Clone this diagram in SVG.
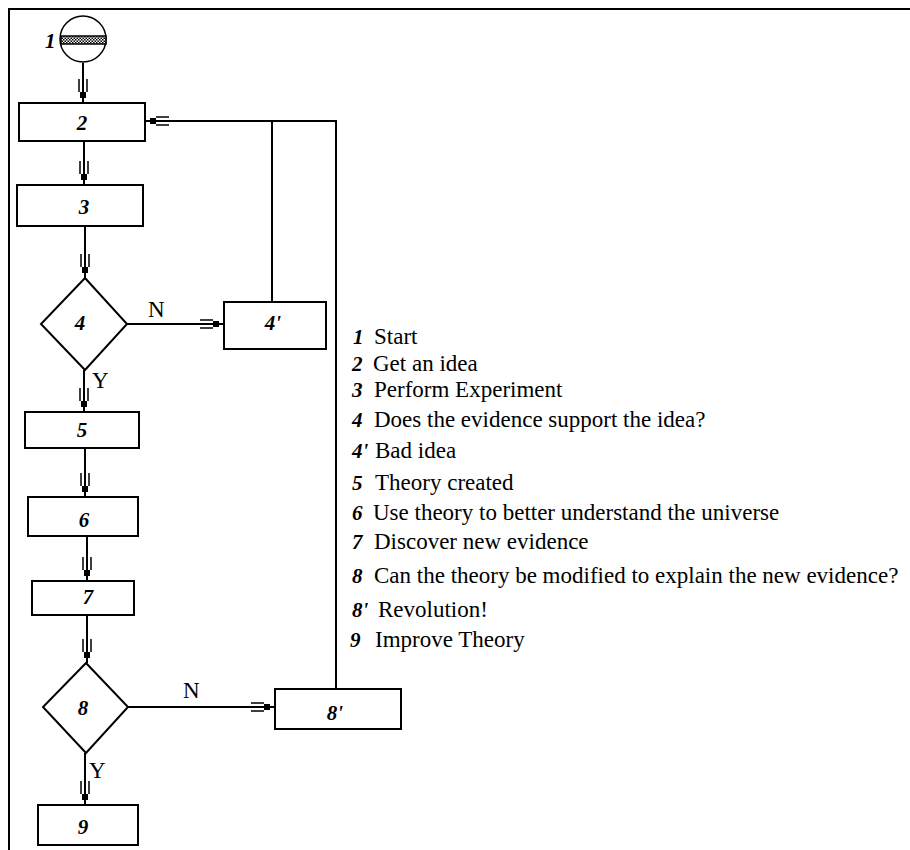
<svg xmlns="http://www.w3.org/2000/svg" width="910" height="850" viewBox="0 0 910 850">
<style>
.box{fill:#fff;stroke:#000;stroke-width:2}
.ln{fill:none;stroke:#000;stroke-width:2}
.num{font-family:"Liberation Serif","Times New Roman",serif;font-weight:bold;font-style:italic;font-size:21px;fill:#000}
.lbl{font-family:"Liberation Serif","Times New Roman",serif;font-size:23px;fill:#000}
</style>
<defs>
<pattern id="hatch" width="3" height="3" patternUnits="userSpaceOnUse">
<rect width="3" height="3" fill="#fff"/>
<rect width="1.5" height="1.5" fill="#000"/>
<rect x="1.5" y="1.5" width="1.5" height="1.5" fill="#000"/>
</pattern>
<marker id="arr" markerUnits="userSpaceOnUse" viewBox="-25 -6 26 12" refX="0" refY="0" markerWidth="26" markerHeight="12" orient="auto">
<rect x="-11" y="-3" width="6" height="6" fill="#000"/>
<path d="M-24,-4 H-11 M-24,4 H-11" stroke="#000" stroke-width="1.5" fill="none"/>
</marker>
</defs>
<rect x="0" y="0" width="910" height="850" fill="#fff"/>
<path d="M9,850 V9 H910" class="ln"/>

<g id="connectors">
<path class="ln" d="M83,63 V103" marker-end="url(#arr)"/>
<path class="ln" d="M84,141 V185" marker-end="url(#arr)"/>
<path class="ln" d="M85,226 V278" marker-end="url(#arr)"/>
<path class="ln" d="M127,324 H224" marker-end="url(#arr)"/>
<path class="ln" d="M84,370 V412" marker-end="url(#arr)"/>
<path class="ln" d="M85,448 V497" marker-end="url(#arr)"/>
<path class="ln" d="M87,536 V581" marker-end="url(#arr)"/>
<path class="ln" d="M87,615 V663" marker-end="url(#arr)"/>
<path class="ln" d="M128,707 H275" marker-end="url(#arr)"/>
<path class="ln" d="M85,753 V805" marker-end="url(#arr)"/>
<path class="ln" d="M336,689 V121 H145" marker-end="url(#arr)"/>
<path class="ln" d="M272,302 V121"/>
<text class="lbl" x="148" y="317">N</text>
<text class="lbl" x="92" y="388">Y</text>
<text class="lbl" x="183" y="698">N</text>
<text class="lbl" x="89" y="778">Y</text>
</g>

<g id="n1">
<circle cx="83" cy="39" r="23" fill="#fff" stroke="#000" stroke-width="1.5"/>
<rect x="61" y="36" width="45" height="8" fill="url(#hatch)" stroke="#000" stroke-width="1.5"/>
<text class="num" x="45" y="48">1</text>
</g>
<g id="n2"><rect class="box" x="19" y="103" width="126" height="38"/><text class="num" x="82" y="130" text-anchor="middle">2</text></g>
<g id="n3"><rect class="box" x="17" y="185" width="126" height="41"/><text class="num" x="84" y="214" text-anchor="middle">3</text></g>
<g id="n4"><path class="box" d="M85,278 L127,324 L85,370 L41,324 Z"/><text class="num" x="80" y="330" text-anchor="middle">4</text></g>
<g id="n4p"><rect class="box" x="224" y="302" width="102" height="47"/><text class="num" x="273" y="330" text-anchor="middle">4'</text></g>
<g id="n5"><rect class="box" x="25" y="412" width="114" height="36"/><text class="num" x="82" y="437" text-anchor="middle">5</text></g>
<g id="n6"><rect class="box" x="28" y="497" width="110" height="39"/><text class="num" x="84" y="527" text-anchor="middle">6</text></g>
<g id="n7"><rect class="box" x="32" y="581" width="102" height="34"/><text class="num" x="88" y="604" text-anchor="middle">7</text></g>
<g id="n8"><path class="box" d="M86,663 L128,707 L86,753 L43,707 Z"/><text class="num" x="83" y="715" text-anchor="middle">8</text></g>
<g id="n8p"><rect class="box" x="275" y="689" width="126" height="40"/><text class="num" x="335" y="720" text-anchor="middle">8'</text></g>
<g id="n9"><rect class="box" x="38" y="805" width="100" height="40"/><text class="num" x="83" y="834" text-anchor="middle">9</text></g>

<g id="legend">
<text class="num" x="353" y="344">1</text><text class="lbl" x="374" y="344">Start</text>
<text class="num" x="352" y="371">2</text><text class="lbl" x="373" y="371">Get an idea</text>
<text class="num" x="352" y="397">3</text><text class="lbl" x="374" y="397">Perform Experiment</text>
<text class="num" x="352" y="427">4</text><text class="lbl" x="374" y="427">Does the evidence support the idea?</text>
<text class="num" x="352" y="458">4'</text><text class="lbl" x="375" y="458">Bad idea</text>
<text class="num" x="352" y="490">5</text><text class="lbl" x="375" y="490">Theory created</text>
<text class="num" x="352" y="520">6</text><text class="lbl" x="373" y="520">Use theory to better understand the universe</text>
<text class="num" x="352" y="549">7</text><text class="lbl" x="374" y="549">Discover new evidence</text>
<text class="num" x="352" y="583">8</text><text class="lbl" x="374" y="583">Can the theory be modified to explain the new evidence?</text>
<text class="num" x="352" y="617">8'</text><text class="lbl" x="378" y="617">Revolution!</text>
<text class="num" x="350" y="647">9</text><text class="lbl" x="375" y="647">Improve Theory</text>
</g>
</svg>
